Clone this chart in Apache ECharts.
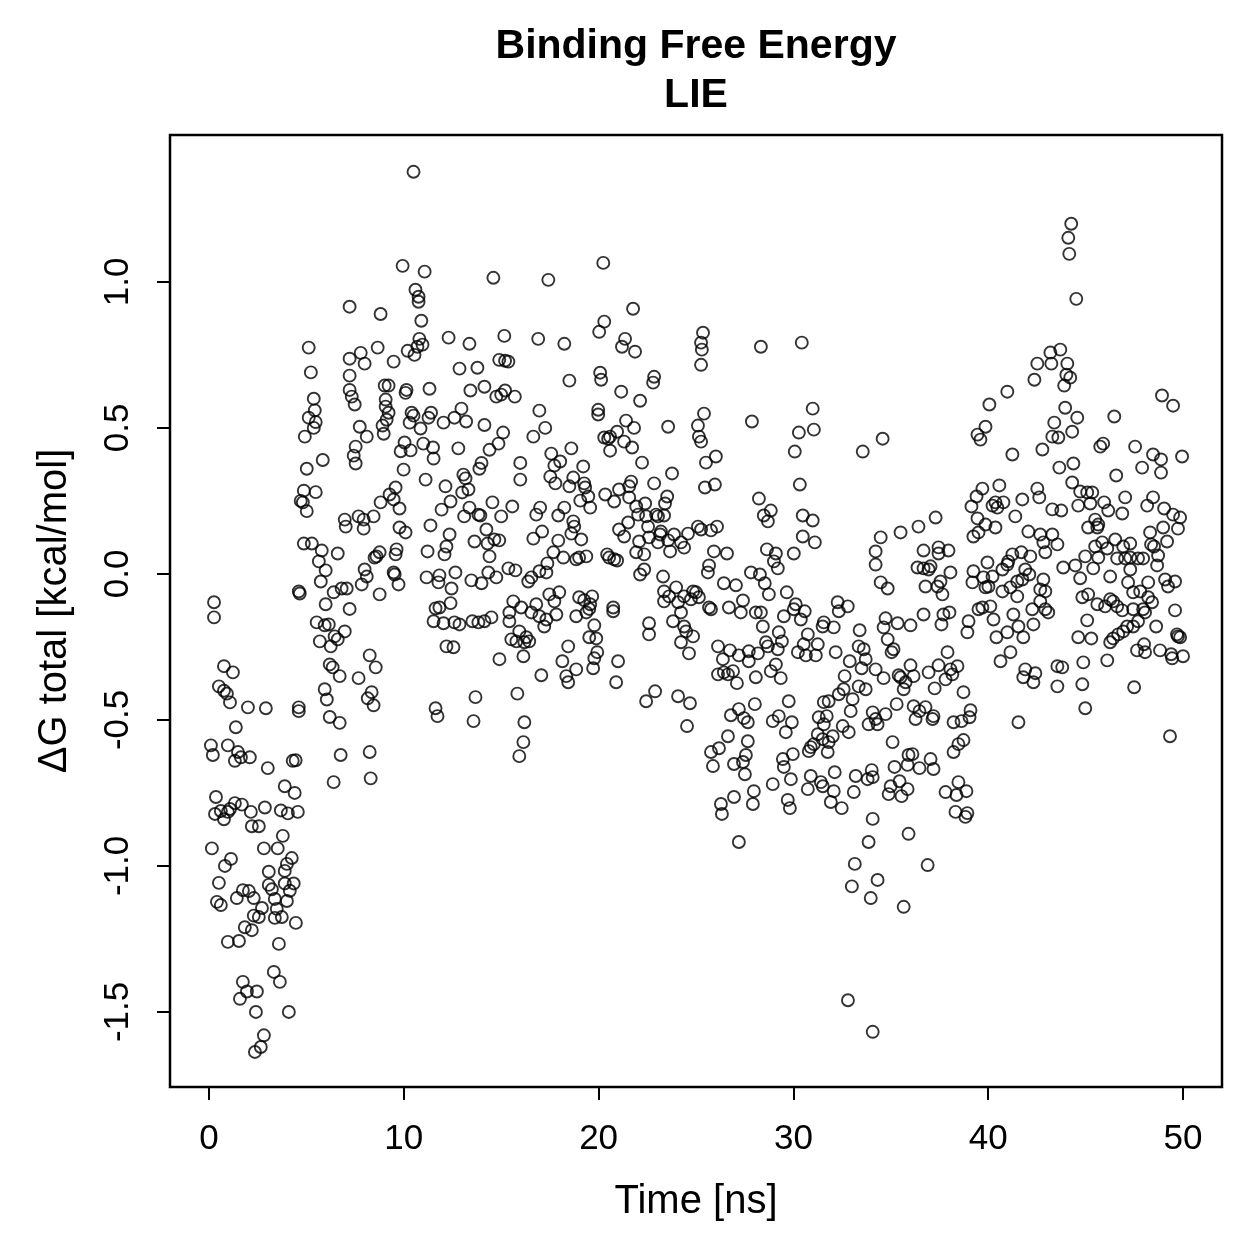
<!DOCTYPE html>
<html>
<head>
<meta charset="utf-8">
<script src="https://cdn.jsdelivr.net/npm/echarts@6/dist/echarts.min.js"></script>
<style>
  html, body { margin: 0; padding: 0; background: #fff; }
  #main { width: 1259px; height: 1259px; }
</style>
</head>
<body>
<div id="main"></div>
<script>
// axis ticks
var xTicks = [0, 10, 20, 30, 40, 50];
var yTicks = [-1.5, -1.0, -0.5, 0, 0.5, 1.0];

// [time ns, dG kcal/mol], split by time range
var pts0to7 = [
  [5.12,0.775],[5.23,0.69],[5.38,0.60],[5.43,0.56],[5.12,0.535],[5.48,0.52],[5.38,0.50],[4.92,0.47],[5.84,0.39],[5.02,0.36],
  [4.87,0.285],[5.48,0.28],[4.71,0.25],[4.82,0.245],[5.02,0.215],[6.97,0.186],[7.02,0.162],[4.87,0.104],[5.28,0.104],[5.79,0.08],
  [6.61,0.07],[5.64,0.043],[5.99,0.012],[5.74,-0.026],[4.61,-0.06],[4.66,-0.067],[6.4,-0.063],[6.81,-0.05],[5.99,-0.104],[0.26,-0.097],
  [0.26,-0.149],[5.53,-0.166],[5.94,-0.176],[6.15,-0.173],[6.97,-0.197],[6.45,-0.214],[6.61,-0.224],[5.69,-0.231],[6.25,-0.248],[7.22,-0.12],
  [0.77,-0.316],[1.23,-0.337],[0.51,-0.385],[0.77,-0.40],[0.92,-0.41],[6.2,-0.31],[6.35,-0.32],[6.71,-0.35],[5.94,-0.395],
  [1.08,-0.44],[2.0,-0.457],[2.92,-0.46],[4.61,-0.457],[4.61,-0.47],[6.05,-0.43],[6.2,-0.49],[6.71,-0.51],[1.38,-0.525],[0.1,-0.587],
  [0.2,-0.62],[0.97,-0.587],[1.49,-0.61],[1.33,-0.64],[1.64,-0.628],[2.1,-0.628],[3.02,-0.665],[4.3,-0.64],[4.45,-0.638],[6.76,-0.62],
  [6.4,-0.713],[3.89,-0.727],[4.4,-0.75],[0.36,-0.764],[0.31,-0.822],[0.61,-0.812],[0.77,-0.84],[1.08,-0.805],[1.33,-0.785],[1.69,-0.79],
  [2.15,-0.815],[2.87,-0.80],[3.69,-0.81],[4.05,-0.82],[4.56,-0.815],[0.97,-0.815],[2.2,-0.864],[2.56,-0.864],[3.79,-0.897],[0.15,-0.94],
  [2.82,-0.94],[3.53,-0.94],[1.13,-0.976],[0.82,-1.0],[4.25,-0.973],[4.0,-0.993],[3.89,-1.017],[0.51,-1.058],[0.41,-1.123],[0.61,-1.134],
  [3.07,-1.02],[3.07,-1.065],[3.23,-1.08],[3.89,-1.06],[4.35,-1.06],[4.15,-1.085],[4.0,-1.12],[3.38,-1.113],[3.48,-1.147],[3.74,-1.175],
  [3.38,-1.178],[1.74,-1.083],[2.05,-1.086],[2.3,-1.11],[1.43,-1.11],[2.72,-1.144],[2.56,-1.175],[2.3,-1.17],[1.84,-1.21],[2.2,-1.22],
  [0.97,-1.26],[1.54,-1.257],[4.46,-1.195],[3.59,-1.267],[3.33,-1.363],[3.64,-1.397],[1.74,-1.397],[1.95,-1.43],[1.59,-1.455],[2.46,-1.43],
  [2.41,-1.50],[4.1,-1.50],[2.82,-1.58],[2.66,-1.62],[2.36,-1.637]
];

var pts7to16 = [
  [10.5,1.377],[9.94,1.055],[11.07,1.035],[14.6,1.014],[10.6,0.973],[10.76,0.949],[10.76,0.932],[7.22,0.915],[8.81,0.89],[10.9,0.867],
  [10.8,0.805],[10.96,0.785],[10.7,0.778],[10.55,0.75],[10.2,0.764],[12.3,0.809],[13.37,0.788],[15.16,0.815],[8.66,0.775],[7.79,0.757],
  [7.99,0.72],[7.22,0.737],[7.22,0.679],[9.48,0.727],[12.86,0.703],[13.78,0.706],[14.9,0.733],[15.2,0.73],[15.37,0.727],[9.02,0.645],
  [9.22,0.645],[10.14,0.63],[10.09,0.62],[11.32,0.634],[7.22,0.63],[7.33,0.607],[7.48,0.58],[13.42,0.628],[14.14,0.641],[14.75,0.607],
  [15.0,0.614],[15.2,0.628],[15.7,0.607],[9.07,0.597],[9.07,0.573],[9.22,0.552],[9.12,0.528],[8.91,0.508],[8.97,0.48],[10.4,0.552],
  [10.5,0.542],[10.3,0.518],[10.86,0.498],[11.4,0.552],[11.27,0.535],[12.04,0.518],[12.6,0.535],[12.96,0.566],[13.2,0.522],[14.14,0.51],
  [15.1,0.484],[14.86,0.446],[14.4,0.425],[7.74,0.504],[8.1,0.47],[7.53,0.436],[7.43,0.405],[7.53,0.378],[10.04,0.45],[9.84,0.42],
  [10.35,0.423],[11.0,0.446],[11.5,0.433],[11.53,0.395],[12.8,0.43],[13.99,0.38],[13.88,0.36],[15.98,0.38],[15.98,0.323],[9.99,0.357],
  [11.12,0.323],[13.06,0.34],[13.17,0.327],[12.14,0.30],[13.32,0.289],[13.0,0.279],[12.4,0.248],[9.58,0.296],[9.27,0.272],[9.48,0.255],
  [8.81,0.245],[9.78,0.224],[14.55,0.245],[15.57,0.231],[15.0,0.197],[11.94,0.22],[13.37,0.227],[13.1,0.197],[13.83,0.203],[13.93,0.20],
  [7.68,0.197],[7.94,0.186],[7.94,0.155],[8.45,0.197],[9.78,0.159],[10.09,0.142],[11.37,0.166],[14.24,0.152],[13.63,0.111],[14.3,0.104],
  [14.65,0.118],[14.9,0.115],[14.4,0.06],[12.35,0.135],[12.19,0.094],[12.09,0.067],[11.22,0.077],[9.63,0.084],[9.58,0.067],[8.76,0.074],
  [8.6,0.06],[8.5,0.056],[7.99,0.015],[8.1,-0.009],[7.84,-0.036],[7.07,-0.05],[9.48,0.005],[9.53,-0.002],[9.73,-0.036],[11.17,-0.012],
  [11.83,-0.005],[11.78,-0.029],[12.45,-0.05],[12.65,0.005],[13.47,-0.022],[13.99,-0.032],[14.34,0.005],[14.75,-0.012],[15.37,0.019],[15.73,0.012],
  [8.76,-0.07],[12.4,-0.10],[11.63,-0.118],[11.83,-0.115],[11.53,-0.162],[12.04,-0.169],[12.6,-0.166],[12.86,-0.173],[13.52,-0.162],[13.83,-0.166],
  [14.14,-0.162],[14.5,-0.149],[12.19,-0.248],[12.55,-0.251],[15.62,-0.094],[16.03,-0.115],[15.42,-0.132],[15.42,-0.162],[15.93,-0.197],[15.52,-0.224],
  [15.78,-0.231],[16.14,-0.282],[14.91,-0.292],[8.25,-0.279],[8.56,-0.32],[7.68,-0.357],[8.35,-0.405],[8.15,-0.426],[8.45,-0.45],[13.68,-0.422],
  [13.58,-0.504],[15.83,-0.41],[11.63,-0.46],[11.73,-0.487],[16.19,-0.508],[16.14,-0.576],[15.93,-0.624],[8.25,-0.61],[8.3,-0.70]
];

var pts16to25 = [
  [20.24,1.065],[17.42,1.007],[21.77,0.908],[20.29,0.864],[20.03,0.829],[16.9,0.805],[18.24,0.788],[21.36,0.805],[21.2,0.778],[21.87,0.761],
  [18.5,0.662],[20.08,0.689],[20.13,0.665],[22.85,0.675],[22.8,0.655],[21.16,0.624],[22.13,0.593],[16.96,0.559],[17.26,0.50],[16.65,0.47],
  [19.98,0.562],[19.98,0.546],[21.41,0.525],[21.82,0.50],[20.95,0.487],[20.59,0.47],[20.29,0.467],[20.49,0.463],[21.31,0.453],[21.72,0.433],
  [20.59,0.422],[23.57,0.504],[18.6,0.43],[17.57,0.412],[18.03,0.385],[17.73,0.371],[19.21,0.368],[22.23,0.381],[23.77,0.344],[17.52,0.333],
  [17.78,0.31],[18.7,0.33],[18.5,0.30],[19.26,0.31],[19.31,0.296],[19.47,0.265],[19.06,0.251],[19.57,0.227],[20.34,0.272],[20.8,0.248],
  [21.05,0.289],[21.57,0.30],[21.67,0.316],[21.57,0.262],[21.93,0.231],[22.39,0.241],[22.85,0.31],[23.52,0.265],[23.41,0.241],[17.0,0.227],
  [16.8,0.203],[18.24,0.227],[17.93,0.20],[18.7,0.18],[18.75,0.162],[18.6,0.138],[19.11,0.118],[17.1,0.145],[16.65,0.121],[17.93,0.114],
  [22.03,0.203],[22.44,0.197],[22.95,0.203],[23.05,0.197],[23.36,0.20],[22.54,0.162],[23.2,0.145],[23.16,0.135],[22.59,0.125],[23.05,0.108],
  [21.52,0.176],[21.05,0.152],[21.31,0.128],[22.08,0.111],[21.93,0.074],[22.34,0.067],[23.57,0.115],[23.87,0.135],[24.23,0.108],[24.59,0.138],
  [24.39,0.09],[23.67,0.077],[17.68,0.074],[18.19,0.056],[18.85,0.05],[19.0,0.056],[19.37,0.06],[20.44,0.067],[20.54,0.056],[20.8,0.05],
  [20.95,0.046],[17.37,0.036],[16.96,0.009],[16.55,-0.012],[16.39,-0.026],[17.32,0.005],[22.34,0.015],[22.13,-0.002],[23.31,-0.009],[17.47,-0.07],
  [17.98,-0.063],[17.73,-0.094],[16.8,-0.104],[19.0,-0.08],[19.26,-0.09],[19.67,-0.077],[19.57,-0.104],[20.75,-0.115],[23.36,-0.06],[23.62,-0.077],
  [23.98,-0.046],[24.39,-0.077],[24.85,-0.06],[24.74,-0.087],[23.36,-0.094],[24.08,-0.097],[16.55,-0.132],[16.96,-0.145],[17.32,-0.156],[17.21,-0.18],
  [17.83,-0.139],[19.52,-0.12],[19.37,-0.132],[18.85,-0.145],[20.75,-0.128],[19.78,-0.176],[19.52,-0.217],[19.88,-0.221],[19.93,-0.268],[19.78,-0.289],
  [19.72,-0.323],[16.29,-0.217],[16.44,-0.231],[16.19,-0.234],[18.44,-0.248],[18.14,-0.299],[18.85,-0.327],[18.34,-0.35],[18.44,-0.371],[17.06,-0.347],
  [21.0,-0.299],[20.9,-0.371],[22.59,-0.169],[22.59,-0.207],[23.82,-0.162],[24.23,-0.132],[24.39,-0.18],[24.49,-0.197],[24.85,-0.214],[24.23,-0.234],
  [24.64,-0.272],[22.44,-0.436],[22.9,-0.402],[24.08,-0.419],[24.69,-0.443],[24.54,-0.521]
];

var pts25to34 = [
  [25.36,0.826],[25.26,0.792],[25.3,0.768],[25.26,0.716],[28.33,0.778],[30.43,0.792],[25.41,0.549],[25.1,0.508],[25.15,0.47],[25.26,0.453],
  [27.87,0.522],[30.99,0.566],[30.28,0.484],[31.05,0.494],[30.07,0.419],[33.56,0.419],[26.02,0.402],[25.51,0.381],[25.97,0.306],[25.46,0.296],
  [30.33,0.306],[28.23,0.258],[28.84,0.217],[28.48,0.20],[28.69,0.18],[30.48,0.20],[30.99,0.183],[30.48,0.128],[31.1,0.108],[25.1,0.162],
  [25.26,0.152],[25.77,0.149],[26.08,0.162],[25.92,0.077],[26.59,0.07],[25.67,0.029],[25.61,0.005],[28.64,0.084],[29.1,0.07],[29.0,0.043],
  [29.2,0.019],[30.02,0.07],[27.82,0.005],[28.28,-0.002],[28.53,-0.032],
  [25.0,-0.063],[25.15,-0.08],[25.67,-0.115],[25.77,-0.121],[26.43,-0.032],[27.05,-0.039],[26.69,-0.115],[27.41,-0.091],[27.3,-0.132],[28.07,-0.132],
  [28.33,-0.132],[28.74,-0.07],[28.43,-0.18],[29.51,-0.145],[29.66,-0.063],[30.12,-0.104],[30.02,-0.121],[30.38,-0.156],[30.58,-0.128],[32.27,-0.097],
  [32.79,-0.111],[32.33,-0.128],[31.56,-0.166],[31.5,-0.18],[32.07,-0.183],[33.4,-0.193],[26.13,-0.248],[26.74,-0.262],[26.38,-0.292],[27.2,-0.279],
  [27.71,-0.265],[27.71,-0.299],[28.18,-0.272],[28.59,-0.234],[28.69,-0.248],[29.2,-0.258],[29.41,-0.231],[29.25,-0.20],[26.13,-0.344],[26.43,-0.337],
  [26.64,-0.344],[26.9,-0.333],[27.1,-0.374],[28.07,-0.354],[28.84,-0.333],[29.1,-0.31],[29.35,-0.357],[30.23,-0.268],[30.64,-0.279],[31.15,-0.279],
  [30.74,-0.207],[31.25,-0.241],[30.53,-0.241],[32.17,-0.268],[32.89,-0.299],[33.35,-0.248],[33.61,-0.258],[33.71,-0.292],[33.5,-0.323],[34.22,-0.327],
  [32.63,-0.35],[28.02,-0.446],[29.76,-0.436],[26.79,-0.484],[27.2,-0.463],[27.46,-0.494],[27.66,-0.508],[28.94,-0.504],[29.25,-0.487],[29.92,-0.508],
  [29.61,-0.542],[31.56,-0.439],[31.81,-0.436],[32.33,-0.412],[32.58,-0.395],[33.04,-0.429],[33.35,-0.385],[33.71,-0.395],[32.94,-0.47],[34.07,-0.474],
  [33.86,-0.515],[32.53,-0.521],[32.84,-0.542],[31.3,-0.491],[31.56,-0.515],[31.71,-0.487],[26.64,-0.556],[27.66,-0.573],[26.18,-0.597],[25.77,-0.61],
  [25.87,-0.658],[27.56,-0.62],[27.41,-0.644],[26.95,-0.651],[27.51,-0.686],[29.46,-0.634],[29.97,-0.617],[29.51,-0.661],[29.87,-0.703],[28.94,-0.72],
  [31.25,-0.549],[31.5,-0.566],[31.81,-0.576],[31.05,-0.583],[30.89,-0.593],[30.79,-0.607],[31.76,-0.61],[32.02,-0.556],[30.89,-0.692],[31.41,-0.713],
  [31.51,-0.727],[30.74,-0.737],[32.12,-0.679],[32.07,-0.744],[31.92,-0.781],[32.48,-0.802],[33.2,-0.692],[33.81,-0.703],[34.02,-0.672],[33.1,-0.747],
  [27.97,-0.744],[27.92,-0.788],[26.95,-0.764],[26.28,-0.788],[26.33,-0.822],[29.71,-0.774],[29.82,-0.802],[27.2,-0.918],[34.07,-0.839],[33.86,-0.918],
  [33.15,-0.993],[33.0,-1.07],[32.8,-1.46]
];

var pts34to43 = [
  [42.37,0.665],[40.98,0.624],[40.06,0.58],[39.86,0.504],[39.45,0.477],[39.6,0.46],[41.24,0.409],[42.78,0.426],[34.58,0.463],[40.57,0.303],
  [39.7,0.292],[39.4,0.265],[39.14,0.231],[40.22,0.234],[40.37,0.245],[40.47,0.227],[40.78,0.245],[41.75,0.255],[42.52,0.292],[42.62,0.262],
  [39.45,0.19],[39.86,0.169],[40.37,0.159],[41.39,0.197],[39.24,0.128],[39.5,0.142],[37.3,0.193],[36.42,0.162],[35.5,0.142],[34.48,0.125],
  [34.22,0.077],[34.22,0.032],[42.06,0.145],[42.67,0.135],[42.83,0.108],[42.93,0.074],[42.16,0.06],[41.7,0.074],[41.24,0.067],[41.03,0.043],
  [40.98,0.032],[40.73,0.015],[41.9,0.015],[42.11,-0.002],[42.83,-0.019],[42.67,-0.053],[41.49,-0.026],[41.75,-0.019],[41.49,-0.077],[36.68,0.08],
  [37.45,0.091],[37.96,0.08],[37.45,0.07],[36.37,0.022],[36.68,0.019],[37.04,0.026],[36.94,0.015],[38.06,0.005],[37.55,-0.026],[36.78,-0.043],
  [37.4,-0.043],[37.65,-0.07],[34.48,-0.029],[34.84,-0.05],[39.24,0.009],[39.96,0.039],[39.75,-0.012],[40.22,-0.009],[39.19,-0.029],[39.86,-0.046],
  [40.01,-0.043],[40.73,-0.06],[41.14,-0.046],[39.5,-0.121],[39.7,-0.115],[40.11,-0.111],[40.27,-0.156],[41.29,-0.139],[41.55,-0.18],[41.8,-0.217],
  [42.32,-0.173],[42.26,-0.121],[42.93,-0.121],[42.67,-0.094],[36.68,-0.139],[37.7,-0.139],[38.01,-0.132],[37.6,-0.173],[34.73,-0.152],[34.63,-0.183],
  [35.35,-0.169],[36.01,-0.176],[34.84,-0.224],[35.14,-0.258],[35.04,-0.268],[38.99,-0.162],[38.93,-0.20],[40.42,-0.217],[40.98,-0.20],[40.63,-0.299],
  [41.14,-0.268],[37.91,-0.268],[37.45,-0.313],[38.06,-0.327],[38.42,-0.316],[36.01,-0.313],[36.94,-0.337],[35.4,-0.347],[41.9,-0.327],[42.42,-0.34],
  [34.63,-0.357],[35.5,-0.354],[35.76,-0.371],[35.66,-0.395],[36.17,-0.35],[37.25,-0.392],[37.81,-0.361],[38.16,-0.344],[38.73,-0.405],[41.8,-0.354],
  [42.32,-0.371],[41.55,-0.508],[34.22,-0.497],[34.32,-0.515],[34.73,-0.48],[35.3,-0.446],[36.17,-0.453],[36.47,-0.47],[36.27,-0.497],[36.78,-0.456],
  [37.14,-0.497],[37.19,-0.487],[38.22,-0.508],[38.63,-0.504],[39.04,-0.491],[39.09,-0.467],[35.09,-0.576],[38.22,-0.61],[38.47,-0.583],[38.73,-0.569],
  [35.91,-0.62],[36.11,-0.617],[35.86,-0.654],[36.47,-0.665],[37.04,-0.634],[37.19,-0.668],[35.19,-0.661],[34.07,-0.696],[34.99,-0.727],[34.89,-0.754],
  [35.45,-0.71],[35.55,-0.761],[35.86,-0.737],[37.81,-0.747],[38.47,-0.713],[38.37,-0.757],[38.88,-0.744],[38.32,-0.815],[38.93,-0.819],[38.83,-0.832],
  [35.91,-0.89],[36.89,-0.997],[34.32,-1.048],[33.97,-1.11],[35.66,-1.14],[34.07,-1.568]
];

var pts43to50 = [
  [44.26,1.199],[44.11,1.151],[44.16,1.096],[44.52,0.942],[43.19,0.758],[43.7,0.768],[43.24,0.72],[44.06,0.72],[44.01,0.682],[44.21,0.672],
  [43.9,0.645],[42.52,0.72],[43.95,0.569],[44.57,0.535],[43.39,0.518],[44.31,0.487],[43.29,0.47],[43.6,0.467],[46.47,0.539],[48.92,0.611],
  [49.49,0.576],[45.75,0.436],[45.9,0.446],[47.54,0.436],[48.46,0.409],[48.87,0.392],[48.87,0.347],[47.9,0.364],[49.95,0.402],[46.57,0.337],
  [43.65,0.364],[44.37,0.378],[44.31,0.313],[44.72,0.282],[45.08,0.279],[45.34,0.279],[44.62,0.234],[45.24,0.241],[45.95,0.245],[46.16,0.217],
  [46.88,0.207],[47.03,0.262],[43.29,0.221],[43.75,0.217],[48.16,0.234],[48.46,0.262],[49.03,0.224],[49.49,0.203],[49.85,0.193],[49.74,0.155],
  [48.98,0.159],[49.18,0.111],[48.31,0.142],[45.49,0.186],[45.65,0.169],[45.6,0.159],[45.13,0.159],[43.29,0.135],[43.55,0.101],[43.85,0.022],
  [44.47,0.029],[44.72,-0.015],[44.98,0.06],[45.39,0.019],[45.49,0.094],[45.85,0.108],[46.11,0.087],[45.65,0.056],[46.52,0.118],[46.93,0.094],
  [47.29,0.104],[46.62,0.053],[47.03,0.053],[47.29,0.056],[47.69,0.053],[47.95,0.053],[48.36,0.101],[48.51,0.094],[48.72,0.063],[48.67,0.029],
  [47.29,0.015],[47.18,-0.029],[46.26,-0.009],[49.08,-0.019],[49.23,-0.043],[49.59,-0.026],[48.21,-0.029],
  [42.93,-0.06],[43.08,-0.132],[44.83,-0.08],[45.13,-0.07],[45.6,-0.104],[46.0,-0.111],[46.26,-0.087],[46.41,-0.094],[46.62,-0.111],[46.88,-0.125],
  [47.44,-0.121],[47.44,-0.063],[47.8,-0.06],[48.21,-0.08],[48.41,-0.097],[47.95,-0.121],[48.05,-0.132],[45.08,-0.159],[49.59,-0.125],[44.62,-0.217],
  [45.29,-0.221],[46.26,-0.234],[46.41,-0.221],[46.67,-0.207],[46.93,-0.197],[47.13,-0.18],[47.44,-0.18],[47.69,-0.162],[48.62,-0.18],[49.69,-0.207],
  [49.74,-0.214],[49.85,-0.217],[47.64,-0.262],[48.0,-0.241],[48.05,-0.268],[48.82,-0.262],[49.39,-0.275],[49.44,-0.289],[50.0,-0.282],[43.55,-0.316],
  [43.8,-0.32],[44.88,-0.303],[46.11,-0.296],[43.55,-0.385],[44.83,-0.378],[47.49,-0.388],[44.98,-0.46],[49.33,-0.556]
];

var points = pts0to7.concat(pts7to16, pts16to25, pts25to34, pts34to43, pts43to50);

var font = 'Liberation Sans, Arial, Helvetica, sans-serif';

var chart = echarts.init(document.getElementById('main'));
chart.setOption({
    animation: false,
    backgroundColor: '#fff',
    title: {
        text: 'Binding Free Energy\nLIE',
        left: 696,
        top: 22,
        padding: 0,
        textAlign: 'center',
        textStyle: { fontFamily: font, fontWeight: 'bold', fontSize: 41, lineHeight: 49, color: '#000' }
    },
    grid: {
        left: 170, right: 37, top: 135, bottom: 172,
        show: true, borderColor: '#000', borderWidth: 2.5,
        outerBoundsMode: 'none'
    },
    xAxis: {
        type: 'value',
        min: -2, max: 52,
        name: 'Time [ns]',
        nameLocation: 'middle',
        nameGap: 95,
        nameTextStyle: { fontFamily: font, fontSize: 40, color: '#000' },
        axisLine: { show: false, onZero: false },
        splitLine: { show: false },
        axisTick: { show: true, customValues: xTicks, length: 13, lineStyle: { color: '#000', width: 2 } },
        axisLabel: { customValues: xTicks, margin: 35, fontFamily: font, fontSize: 35, color: '#000' }
    },
    yAxis: {
        type: 'value',
        min: -1.757, max: 1.503,
        name: '\u0394G total [kcal/mol]',
        nameLocation: 'middle',
        nameGap: 95,
        nameTextStyle: { fontFamily: font, fontSize: 40, color: '#000' },
        axisLine: { show: false, onZero: false },
        splitLine: { show: false },
        axisTick: { show: true, customValues: yTicks, length: 13, lineStyle: { color: '#000', width: 2 } },
        axisLabel: {
            customValues: yTicks, rotate: 90, margin: 34,
            fontFamily: font, fontSize: 35, color: '#000',
            formatter: function (v) { return v.toFixed(1); }
        }
    },
    series: [{
        type: 'scatter',
        data: points,
        symbol: 'circle',
        symbolSize: 12,
        itemStyle: { color: 'rgba(0,0,0,0)', borderColor: '#000', borderWidth: 1.9 }
    }]
});
</script>
</body>
</html>
